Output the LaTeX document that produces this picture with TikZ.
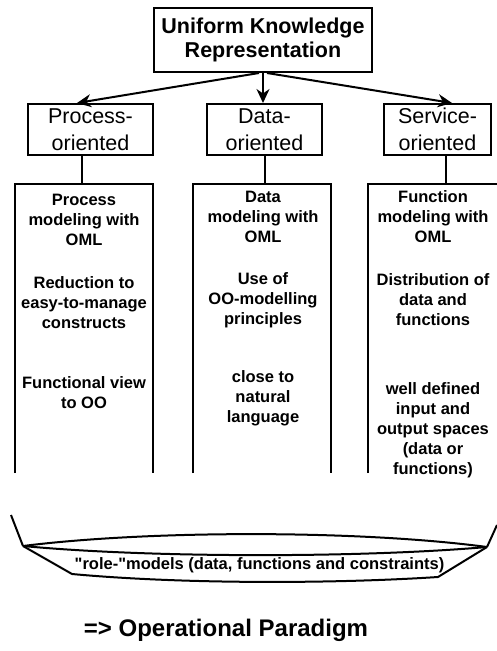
\documentclass[tikz,border=0pt]{standalone}
\usepackage{fontspec}
\setmainfont{Liberation Sans}[Ligatures=TeXOff]
\usetikzlibrary{arrows.meta,calc}
\begin{document}
\begin{tikzpicture}[x=1pt,y=-1pt,
  lw/.style={line width=2pt},
  topbox/.style={draw,lw,rectangle,minimum width=218pt,minimum height=64pt,inner sep=0pt,align=center,font=\bfseries\fontsize{21.5}{24.5}\selectfont},
  l2box/.style={draw,lw,rectangle,minimum height=51pt,inner sep=0pt,align=center,font=\fontsize{21.5}{27}\selectfont},
  colframe/.style={rectangle,minimum height=289pt,inner sep=0pt},
  coltext/.style={align=center,inner sep=0pt,font=\bfseries\fontsize{16.5}{20}\selectfont},
  arr/.style={lw,-{Stealth[length=14pt,width=13pt,inset=4.5pt]}}
]
\useasboundingbox (0,0) rectangle (497,651);

\node[topbox] (top) at (263,40) {Uniform Knowledge\\Representation};
\node[l2box,minimum width=125pt] (pl) at (90.5,129.5) {Process-\\oriented};
\node[l2box,minimum width=115pt] (dl) at (264.5,129.5) {Data-\\oriented};
\node[l2box,minimum width=107pt] (sl) at (437.5,129.5) {Service-\\oriented};

\draw[arr] ([xshift=-4pt]top.south) -- ([xshift=-13.5pt]pl.north);
\draw[arr] (top.south) -- (top.south |- dl.north);
\draw[arr] ([xshift=4pt]top.south) -- ([xshift=14.5pt]sl.north);

\node[colframe,minimum width=138pt] (pc) at (84,328.5) {};
\node[colframe,minimum width=137.5pt] (dc) at (262.25,328.5) {};
\node[colframe,minimum width=132pt] (sc) at (434,328.5) {};
\draw[lw] (pc.south west) -- (pc.north west) -- (pc.north east) -- (pc.south east);
\draw[lw] (dc.south west) -- (dc.north west) -- (dc.north east) -- (dc.south east);
\draw[lw] (sc.south west) -- (sc.north west) -- (sc.north east);

\draw[lw] ([xshift=-8.5pt]pl.south) -- ([xshift=-8.5pt]pl.south |- pc.north);
\draw[lw] (dl.south) -- (dl.south |- dc.north);
\draw[lw] ([xshift=8.5pt]sl.south) -- ([xshift=8.5pt]sl.south |- sc.north);

\node[coltext] (p1) at (84,220) {Process\\modeling with\\OML};
\node[coltext] (p2) at (84,303) {Reduction to\\easy-to-manage\\constructs};
\node[coltext] (p3) at (84,393) {Functional view\\to OO};
\node[coltext] (d1) at (263,217) {Data\\modeling with\\OML};
\node[coltext] (d2) at (263,300) {Use of\\OO-modelling\\principles};
\node[coltext] (d3) at (263,398) {close to\\natural\\language};
\node[coltext] (s1) at (433,217) {Function\\modeling with\\OML};
\node[coltext] (s2) at (433,300) {Distribution of\\data and\\functions};
\node[coltext] (s3) at (433,430) {well defined\\input and\\output spaces\\(data or\\functions)};

\draw[lw] (11,515) -- (23,546);
\draw[lw] (497,525) -- (487,547);
\draw[lw] (23,546) .. controls (150,530) and (360,530) .. (487,547);
\draw[lw] (23,546) .. controls (150,558) and (360,558) .. (487,547);
\draw[lw] (23,546) -- (72,574) .. controls (180,584) and (330,584) .. (438,577) -- (487,547);
\node[font=\bfseries\fontsize{16.5}{20}\selectfont,inner sep=0pt] (rm) at (259.5,565) {"role-"models (data, functions and constraints)};

\node[font=\bfseries\fontsize{24}{28}\selectfont,inner sep=0pt] (op) at (226,630) {=> Operational Paradigm};
\end{tikzpicture}
\end{document}
